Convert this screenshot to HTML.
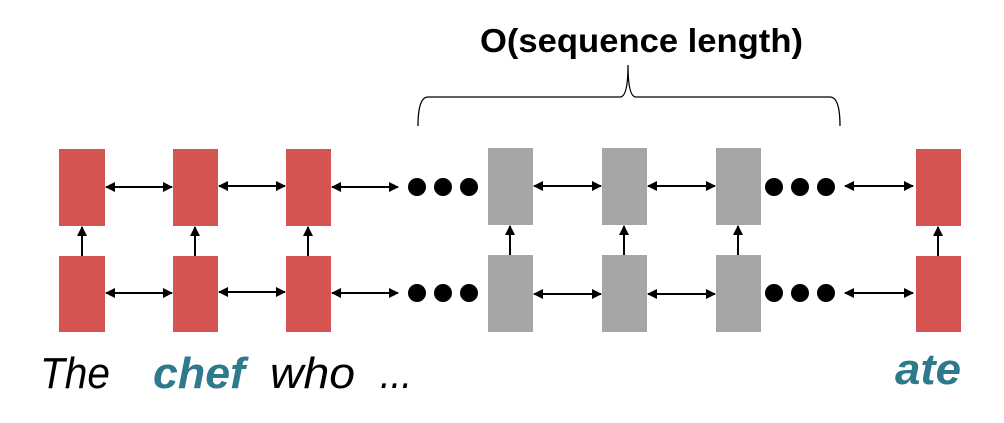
<!DOCTYPE html>
<html><head><meta charset="utf-8"><style>body{margin:0;background:#fff}</style></head><body>
<svg width="1004" height="418" viewBox="0 0 1004 418" xmlns="http://www.w3.org/2000/svg">
<defs><marker id="a" viewBox="0 0 10 10" refX="9" refY="5" markerWidth="10" markerHeight="10" markerUnits="userSpaceOnUse" orient="auto-start-reverse"><path d="M0,0L10,5L0,10z" fill="#000"/></marker></defs>
<text x="480" y="52" font-family="Liberation Sans, sans-serif" font-weight="bold" font-size="33" textLength="323" lengthAdjust="spacingAndGlyphs">O(sequence length)</text>
<path d="M418,126 Q418,97 428,97 L620,97 Q628,97 628,65 Q628,97 636,97 L830,97 Q840,97 840,126" fill="none" stroke="#000" stroke-width="1.3"/>
<g fill="#d45550">
<rect x="59" y="149" width="46" height="77"/><rect x="59" y="256" width="46" height="76"/>
<rect x="173" y="149" width="45" height="77"/><rect x="173" y="256" width="45" height="76"/>
<rect x="286" y="149" width="45" height="77"/><rect x="286" y="256" width="45" height="76"/>
<rect x="916" y="149" width="45" height="77"/><rect x="916" y="256" width="45" height="76"/>
</g>
<g fill="#a6a6a6">
<rect x="488" y="148" width="45" height="77"/><rect x="488" y="255" width="45" height="77"/>
<rect x="602" y="148" width="45" height="77"/><rect x="602" y="255" width="45" height="77"/>
<rect x="716" y="148" width="45" height="77"/><rect x="716" y="255" width="45" height="77"/>
</g>
<g fill="#000">
<circle cx="417" cy="187" r="9"/><circle cx="443" cy="187" r="9"/><circle cx="469" cy="187" r="9"/>
<circle cx="417" cy="293" r="9"/><circle cx="443" cy="293" r="9"/><circle cx="469" cy="293" r="9"/>
<circle cx="774" cy="187" r="9"/><circle cx="800" cy="187" r="9"/><circle cx="826" cy="187" r="9"/>
<circle cx="774" cy="293" r="9"/><circle cx="800" cy="293" r="9"/><circle cx="826" cy="293" r="9"/>
</g>
<g stroke="#000" stroke-width="2" marker-start="url(#a)" marker-end="url(#a)">
<line x1="106" y1="187" x2="172" y2="187"/><line x1="219" y1="186" x2="285" y2="186"/><line x1="332" y1="187" x2="398" y2="187"/>
<line x1="106" y1="293" x2="172" y2="293"/><line x1="219" y1="292" x2="285" y2="292"/><line x1="332" y1="293" x2="398" y2="293"/>
<line x1="534" y1="186" x2="601" y2="186"/><line x1="648" y1="186" x2="715" y2="186"/><line x1="845" y1="186" x2="913" y2="186"/>
<line x1="534" y1="294" x2="601" y2="294"/><line x1="648" y1="294" x2="715" y2="294"/><line x1="845" y1="293" x2="913" y2="293"/>
</g>
<g stroke="#000" stroke-width="2" marker-end="url(#a)">
<line x1="82" y1="256" x2="82" y2="227"/><line x1="195" y1="256" x2="195" y2="227"/><line x1="308" y1="256" x2="308" y2="227"/>
<line x1="510" y1="255" x2="510" y2="226"/><line x1="624" y1="255" x2="624" y2="226"/><line x1="738" y1="255" x2="738" y2="226"/>
<line x1="938" y1="256" x2="938" y2="227"/>
</g>
<g font-family="Liberation Sans, sans-serif" font-style="italic" font-size="44">
<text x="40" y="388" textLength="70" lengthAdjust="spacingAndGlyphs">The</text>
<text x="153" y="388" font-weight="bold" fill="#2e7a8c" textLength="92" lengthAdjust="spacingAndGlyphs">chef</text>
<text x="270" y="388" textLength="85" lengthAdjust="spacingAndGlyphs">who</text>
<text x="380" y="388" textLength="32" lengthAdjust="spacingAndGlyphs">...</text>
<text x="895" y="384" font-weight="bold" fill="#2e7a8c" textLength="66" lengthAdjust="spacingAndGlyphs">ate</text>
</g>
</svg>
</body></html>
